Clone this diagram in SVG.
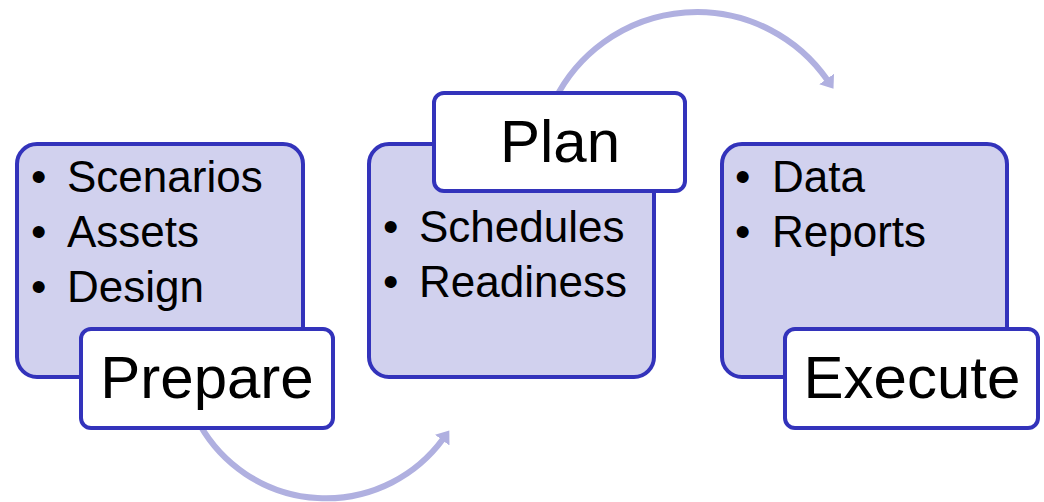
<svg xmlns="http://www.w3.org/2000/svg" width="1044" height="502" viewBox="0 0 1044 502">
<style>
.panel{fill:#D1D1EE;stroke:#3333BB;stroke-width:4}
.label{fill:#FFFFFF;stroke:#3333BB;stroke-width:4}
.item{font-family:"Liberation Sans",Arial,sans-serif;font-size:44px;fill:#000}
.title{font-family:"Liberation Sans",Arial,sans-serif;font-size:60px;fill:#000;text-anchor:middle}
.arc{fill:none;stroke:#B0B0E0;stroke-width:6}
</style>
<defs>
<marker id="ah" markerUnits="userSpaceOnUse" markerWidth="14" markerHeight="20" viewBox="0 -10 14 20" refX="1" refY="0" orient="auto">
<path d="M0,-9 L12,0 L0,9 z" fill="#B0B0E0"/>
</marker>
</defs>
<rect width="1044" height="502" fill="#FFFFFF"/>
<g id="connectors">
<path class="arc" d="M200,425 A145,145 0 0 0 442.8,439.3" marker-end="url(#ah)"/>
<path class="arc" d="M554.7,100 A159,159 0 0 1 827.2,79.8" marker-end="url(#ah)"/>
</g>
<g id="prepare">
<rect class="panel" x="17" y="144" width="286" height="233" rx="20"/>
<text class="item" x="31" y="192">•</text><text class="item" x="67" y="192">Scenarios</text>
<text class="item" x="31" y="247">•</text><text class="item" x="67" y="247">Assets</text>
<text class="item" x="31" y="302">•</text><text class="item" x="67" y="302">Design</text>
<rect class="label" x="81" y="329" width="252" height="99" rx="10"/>
<text class="title" x="207" y="398">Prepare</text>
</g>
<g id="plan">
<rect class="panel" x="369" y="144" width="285" height="233" rx="20"/>
<text class="item" x="383" y="242">•</text><text class="item" x="419" y="242">Schedules</text>
<text class="item" x="383" y="297">•</text><text class="item" x="419" y="297">Readiness</text>
<rect class="label" x="434" y="93" width="251" height="98" rx="10"/>
<text class="title" x="560" y="162">Plan</text>
</g>
<g id="execute">
<rect class="panel" x="722" y="144" width="285" height="233" rx="20"/>
<text class="item" x="735" y="192">•</text><text class="item" x="772" y="192">Data</text>
<text class="item" x="735" y="247">•</text><text class="item" x="772" y="247">Reports</text>
<rect class="label" x="785" y="329" width="253" height="99" rx="10"/>
<text class="title" x="912" y="398">Execute</text>
</g>
</svg>
